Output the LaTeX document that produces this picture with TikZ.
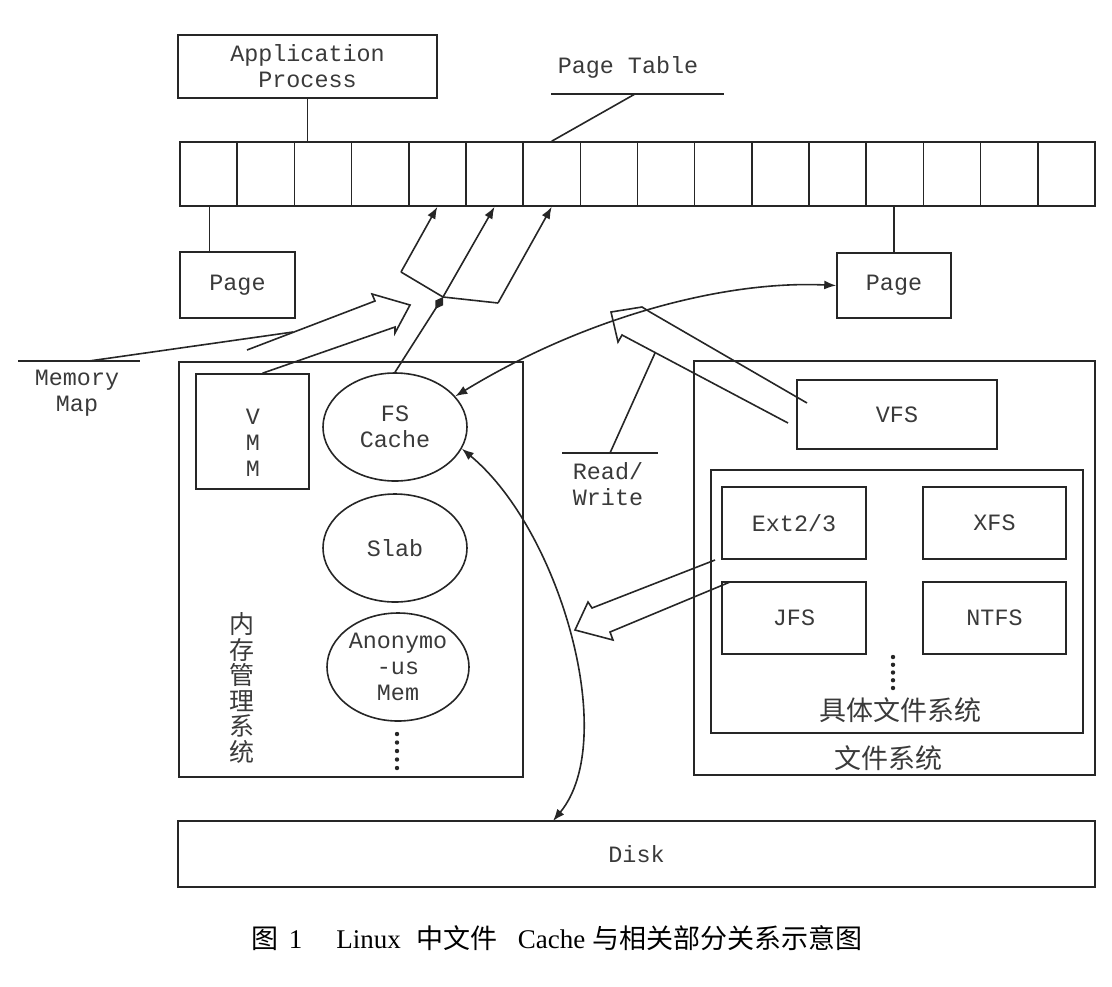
\documentclass[tikz,border=0pt]{standalone}
\usepackage{fontspec}
\setmonofont{Liberation Mono}
\newfontfamily\cjk{Noto Sans CJK SC}
\newfontfamily\capserif{Liberation Serif}
\usetikzlibrary{arrows.meta}
\usetikzlibrary{shapes.geometric}
\tikzset{>={Latex[length=6pt,width=4.5pt]}}
\definecolor{ln}{HTML}{262626}
\definecolor{tx}{HTML}{3A3A3A}
\tikzset{
  box/.style={draw=ln,line width=0.8pt,rectangle,inner sep=0pt,align=center,text=tx,
    font=\ttfamily\fontsize{11.7}{13}\selectfont},
  oval/.style={box,ellipse,minimum width=72pt,minimum height=54pt},
  txt/.style={inner sep=0pt,align=center,text=tx,font=\ttfamily\fontsize{11.7}{13}\selectfont},
  cjktxt/.style={inner sep=0pt,align=center,text=tx,font=\cjk\fontsize{13.5}{14}\selectfont},
}

\begin{document}
\begin{tikzpicture}[x=0.5pt,y=-0.5pt,line width=0.8pt,color=ln]
  \useasboundingbox (0,0) rectangle (1112,986);
  \def\cw{57.1875}
  \node[box,minimum width=129.5pt,minimum height=31.5pt] (app) at (307.5,66.5) {Application\\Process};
  \foreach \i in {1,...,16}
    \node[box,minimum width=28.59375pt,minimum height=32pt] (c\i) at ({180+\cw*(\i-0.5)},174) {};
  \node[box,minimum width=57.5pt,minimum height=33pt] (pageL) at (237.5,285) {Page};
  \node[box,minimum width=57pt,minimum height=32.5pt] (pageR) at (894,285.5) {Page};

  \node[box,minimum width=172pt,minimum height=207.5pt] (mem) at (351,569.5) {};
  \node[box,minimum width=56.5pt,minimum height=57.5pt] (vmm) at (252.5,431.5) {};
  \node[txt] (vmmtxt) at (253,443) {V\\M\\M};
  \node[oval] (fsc) at (395,427) {FS\\Cache};
  \node[oval] (slab) at (395,548) {Slab};
  \node[oval,minimum width=71pt] (anon) at (398,667) {Anonymo\\-us\\Mem};
  \node[cjktxt,font=\cjk\fontsize{12.5}{12.75}\selectfont] (memlbl) at (242,688) {内\\存\\管\\理\\系\\统};
  \foreach \k in {0,...,4}
    \fill (397,734+8.5*\k) circle (1.1pt);

  \node[box,minimum width=200.5pt,minimum height=207pt] (fs) at (894.5,568) {};
  \node[box,minimum width=100pt,minimum height=34.5pt] (vfs) at (897,414.5) {VFS};
  \node[box,minimum width=186pt,minimum height=131.5pt] (inner) at (897,601.5) {};
  \node[box,minimum width=72pt,minimum height=36pt] (ext) at (794,523) {Ext2/3};
  \node[box,minimum width=71.5pt,minimum height=36pt] (xfs) at (994.5,523) {XFS};
  \node[box,minimum width=72pt,minimum height=36pt] (jfs) at (794,618) {JFS};
  \node[box,minimum width=71.5pt,minimum height=36pt] (ntfs) at (994.5,618) {NTFS};
  \foreach \k in {0,...,4}
    \fill (893,657+7.75*\k) circle (1.1pt);
  \node[cjktxt] (innerlbl) at (900,710) {具体文件系统};
  \node[cjktxt] (fslbl) at (888,758) {文件系统};

  \node[box,minimum width=458.5pt,minimum height=33pt] (disk) at (636.5,854) {Disk};
  \node[cjktxt,text=black] (cap) at (557,938) {图\hspace{5pt}{\capserif 1}\hspace{17pt}{\capserif Linux}\hspace{8pt}中文件\hspace{10pt}{\capserif Cache}\hspace{3.5pt}与相关部分关系示意图};

  \draw (app) -- (app |- c3.north);
  \draw ([xshift=-14pt]pageL.north) -- ([xshift=-14pt]pageL.north |- c1.south);
  \draw (pageR.north) -- (pageR.north |- c13.south);

  \node[txt] (ptlbl) at (628,67) {Page Table};
  \coordinate (ptL) at (551,94);
  \coordinate (ptR) at (724,94);
  \coordinate (ptK) at (635,94);
  \draw (ptL) -- (ptR);
  \draw (ptK) -- (c7.north);

  \node[txt] (mmlbl) at (77,393) {Memory\\Map};
  \coordinate (mmL) at (18,361);
  \coordinate (mmR) at (140,361);
  \coordinate (mmK) at (89,361);
  \draw (mmL) -- (mmR);
  \draw (mmK) -- (293,332);

  \node[txt] (rwlbl) at (608,484) {Read/\\Write};
  \coordinate (rwL) at (562,453);
  \coordinate (rwR) at (658,453);
  \coordinate (rwK) at (610,453);
  \draw (rwL) -- (rwR);
  \draw (rwK) -- (655,353);

  \coordinate (fl) at (401,272);
  \coordinate (fj) at (443,297);
  \coordinate (fr) at (498,303);
  \draw (fl) -- (fj) -- (fr);
  \draw[->] (fl) -- (c5.south);
  \draw[->] (fj) -- (c6.south);
  \draw[->] (fr) -- (c7.south);
  \draw[-{Diamond[length=7pt,width=4.5pt]}] (fsc.north) -- (fj);

  \draw (247,350) -- (375,301) -- (372,294) -- (410,305) -- (395,333) -- (395,327) -- ([xshift=5pt]vmm.north);
  \draw (807,403) -- (650,312) -- (642,307) -- (611,312) -- (618,342) -- (622,335) -- (788,423);
  \draw (715,560) -- (592,608) -- (588,602) -- (575,630) -- (613,640) -- (610,632) -- (730,582);

  \draw[<->] (pageR.west) .. controls (720,280) and (580,320) .. (fsc.27);
  \coordinate (dtop) at (553,821);
  \draw[<->] (fsc.-18) .. controls (560,530) and (620,740) .. (dtop);
\end{tikzpicture}
\end{document}
